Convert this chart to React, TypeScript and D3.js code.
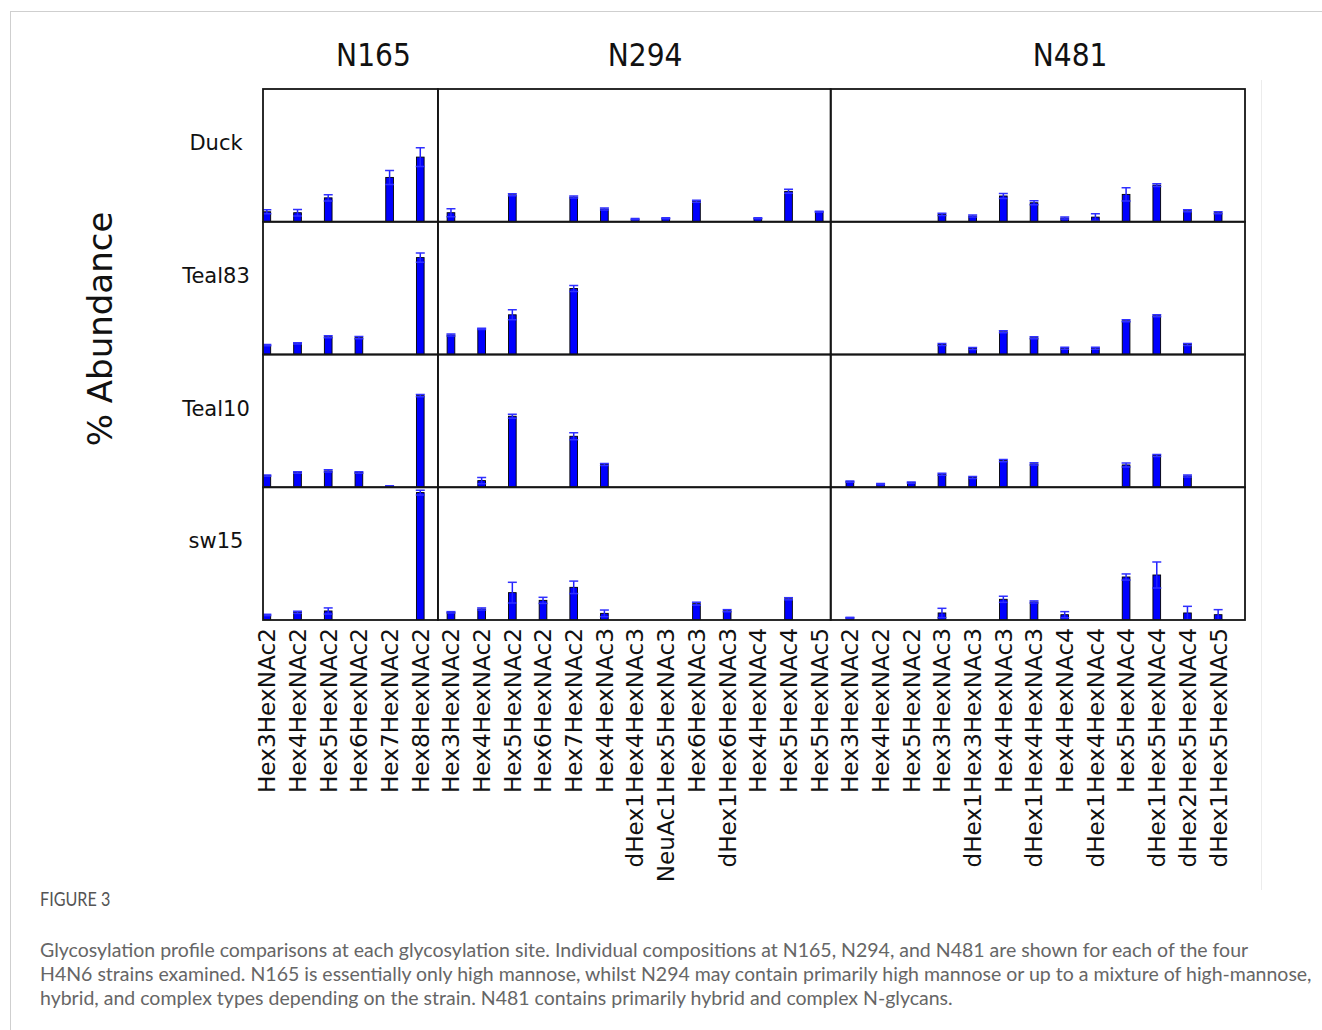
import React, { useRef, useEffect } from 'react';
import * as d3 from 'd3';

// sites (column groups) and strains (rows)
const sites = ['N165', 'N294', 'N481'];
const strains = ['Duck', 'Teal83', 'Teal10', 'sw15'];

// glycan compositions per site
const glycansN165 = ['Hex3HexNAc2', 'Hex4HexNAc2', 'Hex5HexNAc2', 'Hex6HexNAc2', 'Hex7HexNAc2', 'Hex8HexNAc2'];
const glycansN294 = [
  'Hex3HexNAc2', 'Hex4HexNAc2', 'Hex5HexNAc2', 'Hex6HexNAc2', 'Hex7HexNAc2', 'Hex4HexNAc3',
  'dHex1Hex4HexNAc3', 'NeuAc1Hex5HexNAc3', 'Hex6HexNAc3', 'dHex1Hex6HexNAc3', 'Hex4HexNAc4',
  'Hex5HexNAc4', 'Hex5HexNAc5',
];
const glycansN481 = [
  'Hex3HexNAc2', 'Hex4HexNAc2', 'Hex5HexNAc2', 'Hex3HexNAc3', 'dHex1Hex3HexNAc3', 'Hex4HexNAc3',
  'dHex1Hex4HexNAc3', 'Hex4HexNAc4', 'dHex1Hex4HexNAc4', 'Hex5HexNAc4', 'dHex1Hex5HexNAc4',
  'dHex2Hex5HexNAc4', 'dHex1Hex5HexNAc5',
];

// % abundance, order N165 | N294 | N481
const duckValues = [7.5, 6.8, 18.0, 0, 33.4, 48.7, 6.8, 0, 20.3, 0, 18.6, 9.6, 2.0, 2.6, 15.4, 0, 2.6, 22.9, 7.5, 0, 0, 0, 5.6, 4.3, 19.4, 14.3, 2.8, 3.5, 20.6, 27.6, 8.3, 6.8];
const duckErrors = [1.5, 2.5, 2.3, 0, 5.3, 7.0, 3.0, 0, 0.8, 0, 0.8, 0.8, 0.4, 0.4, 0.8, 0, 0.4, 1.5, 0.4, 0, 0, 0, 0.8, 0.8, 1.9, 1.5, 0.8, 2.6, 5.0, 1.1, 0.8, 0.8];
const teal83Values = [7.1, 8.4, 13.4, 12.7, 0, 73.0, 14.7, 19.3, 29.9, 0, 49.7, 0, 0, 0, 0, 0, 0, 0, 0, 0, 0, 0, 7.5, 4.5, 17.1, 12.6, 4.7, 4.7, 25.4, 29.2, 7.5, 0];
const teal83Errors = [0.5, 0.5, 0.8, 0.8, 0, 3.5, 0.8, 0.5, 3.8, 0, 2.3, 0, 0, 0, 0, 0, 0, 0, 0, 0, 0, 0, 0.8, 0.8, 0.8, 0.8, 0.8, 0.8, 0.8, 0.8, 0.8, 0];
const teal10Values = [8.8, 11.1, 12.3, 11.1, 0.8, 69.0, 0, 5.0, 53.5, 0, 38.4, 17.1, 0, 0, 0, 0, 0, 0, 0, 4.3, 2.3, 3.5, 9.8, 7.3, 20.1, 17.6, 0, 0, 16.8, 23.9, 8.5, 0];
const teal10Errors = [0.5, 0.5, 0.8, 0.5, 0.3, 0.8, 0, 2.3, 1.5, 0, 2.6, 0.8, 0, 0, 0, 0, 0, 0, 0, 0.5, 0.5, 0.5, 0.8, 0.8, 0.8, 0.8, 0, 0, 1.5, 0.8, 0.8, 0];
const sw15Values = [3.8, 5.8, 6.8, 0, 0, 96.0, 5.8, 8.3, 20.6, 14.8, 24.6, 5.0, 0, 0, 12.3, 7.0, 0, 16.0, 0, 1.7, 0, 0, 5.3, 0, 15.6, 13.6, 4.0, 0, 32.4, 33.9, 5.3, 4.0];
const sw15Errors = [0.5, 0.8, 2.3, 0, 0, 1.8, 0.5, 0.8, 7.8, 2.3, 4.7, 2.5, 0, 0, 1.1, 0.8, 0, 0.8, 0, 0.3, 0, 0, 3.5, 0, 2.3, 0.8, 2.3, 0, 2.3, 9.8, 5.0, 3.8];

// where the site panels split and where their titles sit (x units)
const siteBoundaries = [5.7, 18.5];
const siteTitleX = [3.6, 12.45, 26.3];

const captionTitle = 'FIGURE 3';
const captionLines = [
  'Glycosylation profile comparisons at each glycosylation site. Individual compositions at N165, N294, and N481 are shown for each of the four',
  'H4N6 strains examined. N165 is essentially only high mannose, whilst N294 may contain primarily high mannose or up to a mixture of high-mannose,',
  'hybrid, and complex types depending on the strain. N481 contains primarily hybrid and complex N-glycans.',
];

export default function App() {
  const svgRef = useRef<SVGSVGElement | null>(null);

  useEffect(() => {
    const W = 1322;
    const H = 1030;
    const svg = d3.select(svgRef.current).attr('width', W).attr('height', H);
    svg.selectAll('*').remove();

    const plot = { left: 263, right: 1245, top: 89, bottom: 620 };
    const categories = [...glycansN165, ...glycansN294, ...glycansN481];
    const rows = [
      { name: strains[0], values: duckValues, errors: duckErrors },
      { name: strains[1], values: teal83Values, errors: teal83Errors },
      { name: strains[2], values: teal10Values, errors: teal10Errors },
      { name: strains[3], values: sw15Values, errors: sw15Errors },
    ];

    const x = d3.scaleLinear().domain([0, categories.length]).range([plot.left, plot.right]);
    const rowBand = d3.scaleBand().domain(strains).range([plot.top, plot.bottom]);
    const barW = 0.25;
    const capHalf = 4.5;
    const edges = [0, ...siteBoundaries, categories.length];

    // page frame
    svg.append('rect').attr('width', W).attr('height', H).attr('fill', '#fff');
    svg.append('line').attr('x1', 10).attr('x2', W).attr('y1', 11.5).attr('y2', 11.5).attr('stroke', '#cfcfcf');
    svg.append('line').attr('x1', 10.5).attr('x2', 10.5).attr('y1', 11).attr('y2', H).attr('stroke', '#cfcfcf');
    svg.append('line').attr('x1', 1261.5).attr('x2', 1261.5).attr('y1', 80).attr('y2', 890).attr('stroke', '#ececec');

    const defs = svg.append('defs');

    rows.forEach((row, r) => {
      const top = rowBand(row.name) as number;
      const bottom = top + rowBand.bandwidth();
      const y = d3.scaleLinear().domain([0, 100]).range([bottom, top]);

      defs.append('clipPath').attr('id', `clip-${r}`)
        .append('rect').attr('x', plot.left).attr('y', top)
        .attr('width', plot.right - plot.left).attr('height', bottom - top);

      const g = svg.append('g').attr('clip-path', `url(#clip-${r})`);
      const data = row.values.map((v, i) => ({ i, v, e: row.errors[i] })).filter(d => d.v > 0);

      // bars
      g.selectAll('.bar').data(data).enter().append('rect')
        .attr('x', d => x(d.i))
        .attr('width', x(barW) - x(0))
        .attr('y', d => y(d.v))
        .attr('height', d => y(0) - y(d.v))
        .attr('fill', '#0000ff')
        .attr('stroke', '#000')
        .attr('stroke-width', 0.9);

      // error bars
      const cx = (d: { i: number }) => x(d.i + barW / 2);
      g.selectAll('.err').data(data).enter().append('line')
        .attr('x1', cx).attr('x2', cx)
        .attr('y1', d => y(d.v - d.e)).attr('y2', d => y(d.v + d.e))
        .attr('stroke', '#2020ff').attr('stroke-width', 1.5);
      [1, -1].forEach(sign => {
        g.selectAll('.cap').data(data).enter().append('line')
          .attr('x1', d => cx(d) - capHalf).attr('x2', d => cx(d) + capHalf)
          .attr('y1', d => y(d.v + sign * d.e)).attr('y2', d => y(d.v + sign * d.e))
          .attr('stroke', '#3030ff').attr('stroke-width', 1.5);
      });

      // panel frames
      for (let s = 0; s < sites.length; s++) {
        svg.append('rect')
          .attr('x', x(edges[s])).attr('y', top)
          .attr('width', x(edges[s + 1]) - x(edges[s])).attr('height', bottom - top)
          .attr('fill', 'none').attr('stroke', '#151515').attr('stroke-width', 1.8);
      }

      // strain label
      svg.append('text')
        .attr('x', 216).attr('y', top + 61)
        .attr('text-anchor', 'middle')
        .attr('font-family', 'DejaVu Sans').attr('font-size', 21)
        .attr('fill', '#111')
        .text(row.name);
    });

    // site titles
    sites.forEach((s, i) => {
      svg.append('text')
        .attr('transform', `translate(${x(siteTitleX[i])},66) scale(0.88,1)`)
        .attr('text-anchor', 'middle')
        .attr('font-family', 'DejaVu Sans').attr('font-size', 32)
        .attr('fill', '#111')
        .text(s);
    });

    // rotated glycan labels
    svg.append('g').selectAll('text').data(categories).enter().append('text')
      .attr('transform', (d, i) => `translate(${x(i + barW / 2)},628) rotate(-90)`)
      .attr('dy', '0.36em')
      .attr('text-anchor', 'end')
      .attr('font-family', 'DejaVu Sans').attr('font-size', 23.2)
      .attr('fill', '#111')
      .text(d => d);

    // y label
    svg.append('text')
      .attr('transform', 'translate(112,329) rotate(-90)')
      .attr('text-anchor', 'middle')
      .attr('font-family', 'DejaVu Sans').attr('font-size', 34)
      .attr('fill', '#111')
      .text('% Abundance');

    // caption
    svg.append('text')
      .attr('transform', 'translate(40,906) scale(0.85,1)')
      .attr('font-family', 'Lato').attr('font-size', 19)
      .attr('fill', '#555')
      .text(captionTitle);
    svg.append('g').selectAll('text').data(captionLines).enter().append('text')
      .attr('x', 40).attr('y', (d, i) => 957 + i * 24)
      .attr('font-family', 'Lato').attr('font-size', 19.5)
      .attr('fill', '#666')
      .text(d => d);
  }, []);

  return <svg ref={svgRef} style={{ position: 'absolute', left: 0, top: 0 }} />;
}
